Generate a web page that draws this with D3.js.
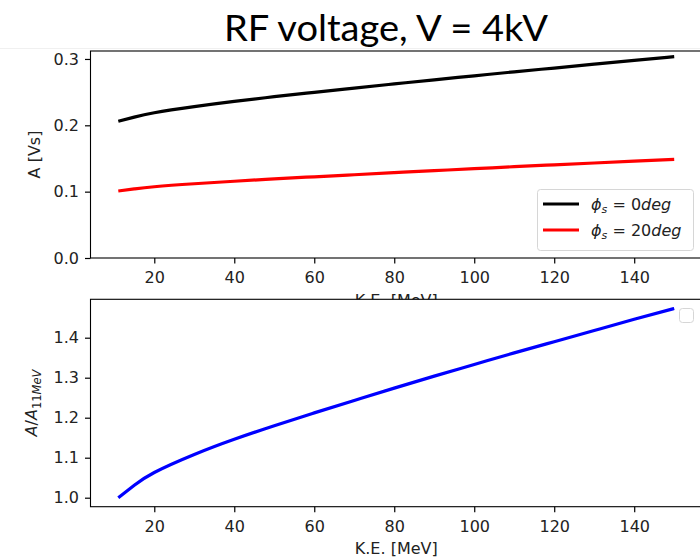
<!DOCTYPE html>
<html>
<head>
<meta charset="utf-8">
<script src="https://cdn.jsdelivr.net/npm/d3@7"></script>
<style>
  body { margin: 0; background: #fff; }
  svg text { font-family: "DejaVu Sans", sans-serif; fill: #222; }
</style>
</head>
<body>
<svg id="chart"></svg>
<script>
//chart values
const keMeV = [11, 15, 20, 30, 40, 50, 60, 70, 80, 90, 100, 110, 120, 130, 140, 150];
const area0deg = [0.2060, 0.2124, 0.2190, 0.2282, 0.2361, 0.2431, 0.2497, 0.2561, 0.2624, 0.2686, 0.2746, 0.2806, 0.2863, 0.2921, 0.2979, 0.3034];
const area20deg = [0.1010, 0.1041, 0.1074, 0.1119, 0.1157, 0.1192, 0.1224, 0.1255, 0.1287, 0.1317, 0.1346, 0.1376, 0.1404, 0.1432, 0.1460, 0.1488];
const areaRatio = [1.000, 1.031, 1.063, 1.108, 1.146, 1.180, 1.212, 1.243, 1.274, 1.304, 1.333, 1.362, 1.390, 1.418, 1.446, 1.473];
const xTicks = [20, 40, 60, 80, 100, 120, 140];
const topTicks = [0.0, 0.1, 0.2, 0.3];
const bottomTicks = [1.0, 1.1, 1.2, 1.3, 1.4];

const width = 700, height = 560;
const fontSize = "16px";
const svg = d3.select("#chart").attr("width", width).attr("height", height);

//title
svg.append("line")
    .attr("x1", 0).attr("x2", width).attr("y1", 48.5).attr("y2", 48.5)
    .style("stroke", "#f0f0f0");
svg.append("text")
    .attr("x", 386).attr("y", 41)
    .attr("text-anchor", "middle")
    .attr("textLength", 324).attr("lengthAdjust", "spacingAndGlyphs")
    .style("font-family", "Lato, 'Open Sans', sans-serif")
    .style("font-size", "36px")
    .style("fill", "#000")
    .text("RF voltage, V = 4kV");

const left = 90.5, right = 702;
const x = d3.scaleLinear().domain([4.05, 156.95]).range([left, right]);

function panel(top, bottom, yDomain, ticks, series) {
    const y = d3.scaleLinear().domain(yDomain).range([bottom, top]);
    const g = svg.append("g");

    g.append("rect")
        .attr("x", left).attr("y", top)
        .attr("width", right - left).attr("height", bottom - top)
        .style("fill", "#fff");

    const line = d3.line().x((d, i) => x(keMeV[i])).y(d => y(d)).curve(d3.curveNatural);
    series.forEach(s => {
        g.append("path")
            .datum(s.values)
            .attr("d", line)
            .style("fill", "none")
            .style("stroke", s.color)
            .style("stroke-width", 3.2);
    });

    const xAxis = g.append("g")
        .attr("transform", `translate(0,${bottom})`)
        .call(d3.axisBottom(x).tickValues(xTicks).tickSize(5.5).tickPadding(8));
    const yAxis = g.append("g")
        .attr("transform", `translate(${left},0)`)
        .call(d3.axisLeft(y).tickValues(ticks).tickFormat(d3.format(".1f")).tickSize(5.5).tickPadding(6));
    [xAxis, yAxis].forEach(a => {
        a.select(".domain").remove();
        a.selectAll("line").style("stroke", "#000").style("stroke-width", 1.2);
        a.selectAll("text").style("font-size", fontSize).style("fill", "#222")
            .style("font-family", "'DejaVu Sans', sans-serif");
    });

    g.append("rect")
        .attr("x", left).attr("y", top)
        .attr("width", right - left).attr("height", bottom - top)
        .style("fill", "none").style("stroke", "#000").style("stroke-width", 1.1);
    return { g, y };
}

//top panel, its K.E. label drawn first so the lower panel hides most of it
svg.append("text")
    .attr("x", (left + right) / 2).attr("y", 305.5)
    .attr("text-anchor", "middle")
    .style("font-size", fontSize)
    .text("K.E. [MeV]");

const topPanel = panel(51, 258, [0, 0.312], topTicks, [
    { values: area0deg, color: "#000000" },
    { values: area20deg, color: "#ff0000" }
]);

svg.append("text")
    .attr("transform", "translate(39.5,154.5) rotate(-90)")
    .attr("text-anchor", "middle")
    .style("font-size", fontSize)
    .text("A [Vs]");

//legend of top panel
const legend = svg.append("g");
legend.append("rect")
    .attr("x", 537.5).attr("y", 189.5).attr("width", 156).attr("height", 61)
    .attr("rx", 3)
    .style("fill", "rgba(255,255,255,0.8)")
    .style("stroke", "#d6d6d6");
const legendItems = [
    { deg: "0", color: "#000000" },
    { deg: "20", color: "#ff0000" }
];
legendItems.forEach((d, i) => {
    const cy = 204 + i * 26;
    legend.append("line")
        .attr("x1", 543).attr("x2", 579).attr("y1", cy).attr("y2", cy)
        .style("stroke", d.color).style("stroke-width", 3.2);
    const t = legend.append("text")
        .attr("x", 591).attr("y", cy + 5.5)
        .style("font-size", fontSize);
    t.append("tspan").style("font-style", "italic").text("ϕ");
    t.append("tspan").attr("dy", 3.5).style("font-size", "11px").style("font-style", "italic").text("s");
    t.append("tspan").attr("dy", -3.5).text(" = " + d.deg);
    t.append("tspan").style("font-style", "italic").text("deg");
});

//bottom panel
const bottomPanel = panel(299.3, 506.7, [0.9775, 1.496], bottomTicks, [
    { values: areaRatio, color: "#0000ff" }
]);

const yl = svg.append("text")
    .attr("transform", "translate(37,403) rotate(-90)")
    .attr("text-anchor", "middle")
    .style("font-size", fontSize);
yl.append("tspan").style("font-style", "italic").text("A");
yl.append("tspan").text("/");
yl.append("tspan").style("font-style", "italic").text("A");
yl.append("tspan").attr("dy", 3.5).style("font-size", "11.5px").text("11");
yl.append("tspan").style("font-size", "11.5px").style("font-style", "italic").text("MeV");

svg.append("text")
    .attr("x", (left + right) / 2).attr("y", 554)
    .attr("text-anchor", "middle")
    .style("font-size", fontSize)
    .text("K.E. [MeV]");

//empty legend of bottom panel
svg.append("rect")
    .attr("x", 679.5).attr("y", 308.5).attr("width", 14).attr("height", 14)
    .attr("rx", 3)
    .style("fill", "rgba(255,255,255,0.8)")
    .style("stroke", "#d6d6d6");
</script>
</body>
</html>
